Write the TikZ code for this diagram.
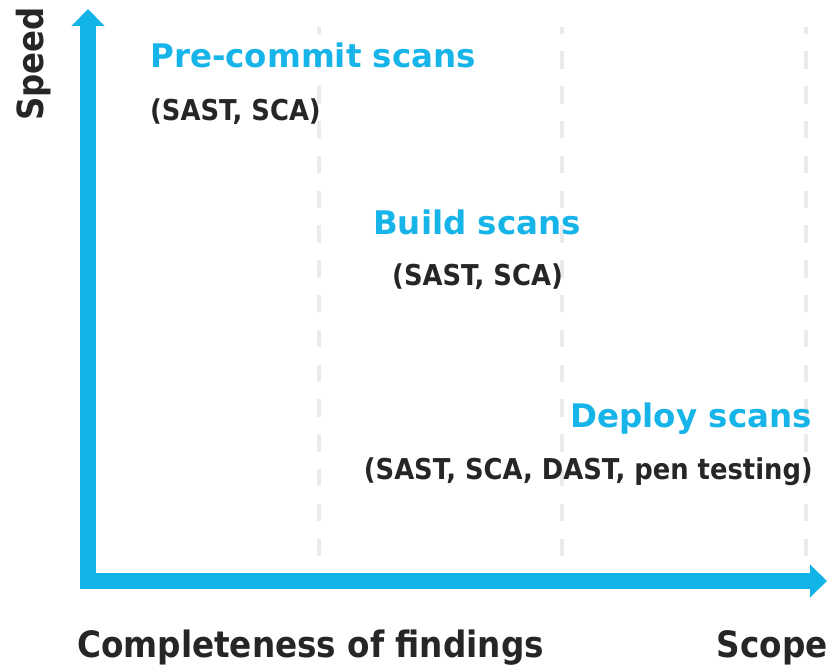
\documentclass[tikz,border=0pt]{standalone}
\usepackage{fontspec}
\setmainfont{DejaVu Sans}
\newfontfamily\condbold{DejaVu Sans Condensed}[BoldFont={DejaVu Sans Condensed Bold}]
\usetikzlibrary{arrows.meta}
\definecolor{axisblue}{HTML}{12B3E6}
\definecolor{headblue}{HTML}{16B4E8}
\definecolor{darktext}{HTML}{262626}
\definecolor{gridgray}{HTML}{EBEBEB}
\begin{document}
\begin{tikzpicture}[x=1pt,y=-1pt,
  gridline/.style={draw=gridgray,line width=4pt,dash pattern=on 17.4pt off 17.4pt},
  axisline/.style={draw=axisblue,line width=15.5pt,line join=miter,
    {Triangle[width=32pt,length=17pt]}-{Triangle[width=32pt,length=17pt]}},
  headtxt/.style={inner sep=0pt,text=headblue,font=\fontsize{32.5}{38}\selectfont\bfseries},
  subtxt/.style={inner sep=0pt,text=darktext,font=\fontsize{28.7}{34}\selectfont\condbold\bfseries},
  labtxt/.style={inner sep=0pt,text=darktext,font=\fontsize{36.3}{44}\selectfont\condbold\bfseries}
]
\useasboundingbox (0,0) rectangle (830,665);
% grid lines
\foreach \gx/\nm in {319/ga,562/gb,806/gc}{
  \coordinate (\nm b) at (\gx,556);
  \coordinate (\nm t) at (\gx,27);
  \draw[gridline] (\nm b) -- (\nm t);
}
% axes
\coordinate (ytip) at (88,9);
\coordinate (orig) at (88,581);
\coordinate (xtip) at (827,581);
\draw[axisline] (ytip) -- (orig) -- (xtip);
% texts
\node[headtxt,anchor=base west] (pre) at (150,67) {Pre-commit scans};
\node[subtxt,anchor=base west] (pres) at (150,120) {(SAST, SCA)};
\node[headtxt,anchor=base west] (bld) at (373,234) {Build scans};
\node[subtxt,anchor=base west] (blds) at (392,285) {(SAST, SCA)};
\node[headtxt,anchor=base east] (dep) at (812,427) {Deploy scans};
\node[subtxt,anchor=base east] (deps) at (813,479) {(SAST, SCA, DAST, pen testing)};
\node[labtxt,anchor=base west] (compl) at (77,657) {Completeness of findings};
\node[labtxt,anchor=base east] (scope) at (828,657) {Scope};
\node[labtxt,anchor=base west,rotate=90,font=\fontsize{36}{44}\selectfont\condbold\bfseries] (speed) at (43,121) {Speed};
\end{tikzpicture}
\end{document}
